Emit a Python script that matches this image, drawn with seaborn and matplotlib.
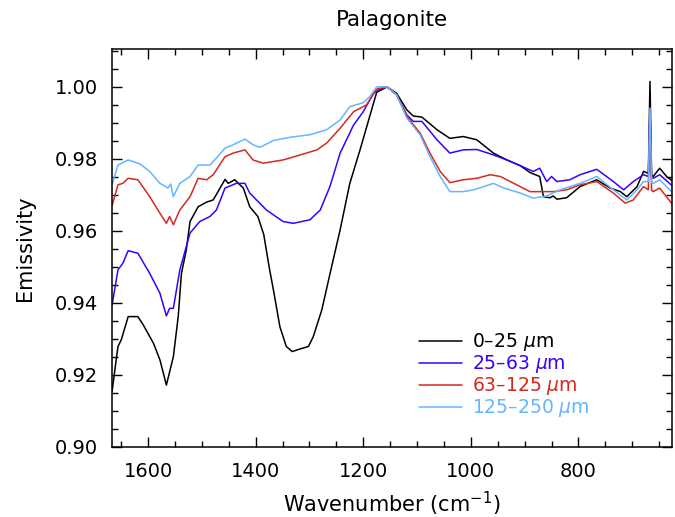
import matplotlib
matplotlib.use("Agg")
import matplotlib.pyplot as plt
import seaborn as sns
import pandas as pd
from matplotlib.ticker import MultipleLocator, FormatStrFormatter
from matplotlib.lines import Line2D

sns.set_theme(style="white")
plt.rcParams['font.family'] = ['DejaVu Sans']
plt.rcParams['mathtext.fontset'] = 'dejavusans'
plt.rcParams['text.color'] = 'black'
plt.rcParams['axes.labelcolor'] = 'black'
plt.rcParams['xtick.color'] = 'black'
plt.rcParams['ytick.color'] = 'black'

labels = ["0\u201325 $\\mu$m", "25\u201363 $\\mu$m", "63\u2013125 $\\mu$m", "125\u2013250 $\\mu$m"]
colors = ["#000000", "#3a00ff", "#d42a1e", "#66b5ff"]

wn_0_25 = [1667, 1656, 1650, 1637, 1619, 1609, 1590, 1578, 1566, 1553, 1544, 1538, 1529, 1522,
           1507, 1491, 1479, 1470, 1457, 1451, 1439, 1423, 1411, 1396, 1385, 1375, 1367, 1355,
           1343, 1332, 1318, 1302, 1293, 1277, 1262, 1243, 1225, 1206, 1188, 1175, 1163, 1156,
           1138, 1119, 1107, 1091, 1063, 1039, 1014, 989, 958, 933, 908, 890, 872, 865, 853,
           847, 840, 822, 797, 766, 741, 722, 710, 691, 679, 670, 667, 664, 661, 649, 636, 624]
em_0_25 = [0.9154, 0.9279, 0.9297, 0.9362, 0.9362, 0.9339, 0.9288, 0.9242, 0.9172, 0.9251, 0.9362,
           0.9482, 0.9547, 0.9626, 0.9667, 0.9680, 0.9686, 0.9709, 0.9743, 0.9732, 0.9742, 0.9719,
           0.9667, 0.9640, 0.9590, 0.9500, 0.9436, 0.9334, 0.9279, 0.9265, 0.9272, 0.9279, 0.9306,
           0.9381, 0.9480, 0.9603, 0.9732, 0.9825, 0.9918, 0.9985, 0.9994, 1.0000, 0.9982, 0.9936,
           0.9919, 0.9916, 0.9881, 0.9857, 0.9862, 0.9853, 0.9816, 0.9797, 0.9781, 0.9762, 0.9751,
           0.9695, 0.9692, 0.9697, 0.9688, 0.9692, 0.9723, 0.9742, 0.9719, 0.9709, 0.9695, 0.9723,
           0.9765, 0.9760, 1.0015, 0.9755, 0.9751, 0.9774, 0.9751, 0.9737]

wn_25_63 = [1667, 1656, 1647, 1637, 1619, 1597, 1578, 1566, 1560, 1553, 1541, 1522, 1504, 1485,
            1473, 1457, 1436, 1420, 1411, 1380, 1349, 1330, 1299, 1280, 1262, 1243, 1218, 1200,
            1181, 1169, 1156, 1138, 1119, 1107, 1091, 1063, 1039, 1014, 989, 958, 933, 908, 884,
            872, 859, 850, 840, 816, 797, 766, 735, 716, 698, 679, 670, 667, 664, 661, 649, 624]
em_25_63 = [0.9394, 0.9492, 0.9510, 0.9545, 0.9538, 0.9482, 0.9427, 0.9364, 0.9385, 0.9385, 0.9492,
            0.9594, 0.9626, 0.9640, 0.9658, 0.9719, 0.9732, 0.9732, 0.9705, 0.9658, 0.9626, 0.9621,
            0.9631, 0.9658, 0.9723, 0.9816, 0.9894, 0.9931, 0.9982, 0.9994, 1.0000, 0.9978, 0.9922,
            0.9904, 0.9904, 0.9853, 0.9816, 0.9825, 0.9826, 0.9811, 0.9797, 0.9781, 0.9765, 0.9774,
            0.9737, 0.9751, 0.9737, 0.9742, 0.9756, 0.9771, 0.9737, 0.9714, 0.9737, 0.9756, 0.9751,
            0.9941, 0.9748, 0.9746, 0.9756, 0.9723]

wn_63_125 = [1667, 1656, 1647, 1637, 1619, 1597, 1578, 1566, 1560, 1553, 1541, 1522, 1507, 1491,
             1479, 1457, 1442, 1420, 1405, 1386, 1349, 1317, 1286, 1268, 1243, 1218, 1194, 1175,
             1156, 1138, 1119, 1094, 1076, 1057, 1039, 1014, 989, 964, 945, 920, 890, 872, 847,
             822, 797, 766, 735, 713, 698, 679, 670, 667, 664, 661, 649, 627]
em_63_125 = [0.9670, 0.9728, 0.9732, 0.9746, 0.9742, 0.9695, 0.9649, 0.9621, 0.9640, 0.9617, 0.9658,
             0.9695, 0.9746, 0.9742, 0.9756, 0.9806, 0.9816, 0.9825, 0.9797, 0.9788, 0.9797, 0.9811,
             0.9825, 0.9844, 0.9885, 0.9931, 0.9950, 0.9994, 1.0000, 0.9978, 0.9918, 0.9871, 0.9816,
             0.9765, 0.9734, 0.9742, 0.9746, 0.9756, 0.9751, 0.9732, 0.9709, 0.9709, 0.9709, 0.9714,
             0.9728, 0.9737, 0.9705, 0.9677, 0.9686, 0.9723, 0.9714, 0.9930, 0.9712, 0.9709, 0.9719,
             0.9677]

wn_125_250 = [1667, 1656, 1637, 1615, 1597, 1578, 1563, 1558, 1553, 1541, 1522, 1507, 1485, 1473,
              1457, 1442, 1420, 1405, 1392, 1367, 1336, 1299, 1268, 1243, 1225, 1200, 1188, 1175,
              1156, 1138, 1119, 1094, 1076, 1057, 1039, 1014, 995, 976, 958, 939, 908, 884, 859,
              834, 816, 797, 766, 735, 710, 691, 679, 670, 667, 664, 661, 649, 627]
em_125_250 = [0.9728, 0.9783, 0.9797, 0.9786, 0.9765, 0.9732, 0.9719, 0.9730, 0.9695, 0.9732, 0.9751,
              0.9783, 0.9783, 0.9802, 0.9830, 0.9839, 0.9855, 0.9839, 0.9832, 0.9851, 0.9860, 0.9867,
              0.9881, 0.9908, 0.9945, 0.9956, 0.9973, 1.0000, 1.0000, 0.9978, 0.9913, 0.9866, 0.9806,
              0.9751, 0.9709, 0.9709, 0.9714, 0.9723, 0.9732, 0.9719, 0.9705, 0.9691, 0.9697, 0.9714,
              0.9723, 0.9732, 0.9751, 0.9714, 0.9686, 0.9714, 0.9737, 0.9737, 0.9941, 0.9735, 0.9732,
              0.9742, 0.9709]

series = [(wn_0_25, em_0_25), (wn_25_63, em_25_63), (wn_63_125, em_63_125), (wn_125_250, em_125_250)]
frames = []
for lab, (w, e) in zip(labels, series):
    frames.append(pd.DataFrame({"wn": w, "em": e, "size": lab}))
df = pd.concat(frames, ignore_index=True)

fig = plt.figure(figsize=(6.75, 5.17), dpi=100)
ax = fig.add_axes([0.166, 0.1354, 0.8296, 0.7698])
sns.lineplot(data=df, x="wn", y="em", hue="size", hue_order=labels,
             palette=dict(zip(labels, colors)), estimator=None, sort=True,
             linewidth=1.1, ax=ax, legend=False)

ax.set_xlim(1667, 626)
ax.set_ylim(0.90, 1.0105)
ax.xaxis.set_major_locator(MultipleLocator(200))
ax.xaxis.set_minor_locator(MultipleLocator(50))
ax.yaxis.set_major_locator(MultipleLocator(0.02))
ax.yaxis.set_minor_locator(MultipleLocator(0.005))
ax.yaxis.set_major_formatter(FormatStrFormatter('%.2f'))
ax.tick_params(which='both', direction='in', top=True, right=True, bottom=True, left=True,
               color='black', width=1.0)
ax.tick_params(which='major', length=7, labelsize=14, labelcolor='black')
ax.tick_params(axis='y', which='major', pad=10)
ax.tick_params(axis='x', which='major', pad=11)
ax.tick_params(which='minor', length=4)
for sp in ax.spines.values():
    sp.set_color('black')
    sp.set_linewidth(1.1)

ax.set_xlabel("Wavenumber (cm$^{-1}$)", fontsize=15, labelpad=6, color='black')
ax.set_ylabel("Emissivity", fontsize=15, labelpad=14, color='black')
ax.set_title("Palagonite", fontsize=15.5, pad=16.5, color='black')

handles = [Line2D([0], [0], color=c, lw=1.1) for c in colors]
leg = ax.legend(handles, labels, loc='lower left', bbox_to_anchor=(0.548, 0.07),
                frameon=False, fontsize=13.5, handlelength=2.3, handletextpad=0.55,
                labelspacing=0.0, borderaxespad=0, borderpad=0)
for t, c in zip(leg.get_texts(), colors):
    t.set_color(c)

fig.savefig("out.png", dpi=100)
